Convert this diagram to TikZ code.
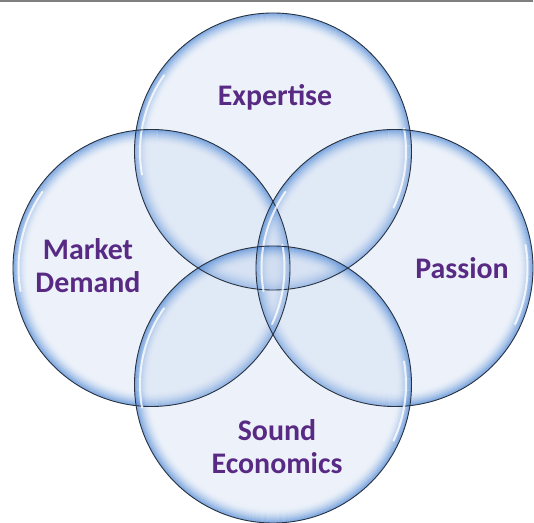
\documentclass[tikz,border=0pt]{standalone}
\usepackage{fontspec}
\setmainfont{Carlito}
\definecolor{labelpurple}{RGB}{88,42,132}
\definecolor{bubbletint}{RGB}{195,212,238}
\definecolor{bubbleblue}{RGB}{70,130,210}
\definecolor{bubbleline}{RGB}{40,50,65}
\definecolor{framegray}{RGB}{128,128,128}
\tikzstyle{bubble} = [fill=bubbletint, fill opacity=0.3]
\tikzstyle{bubbleglow} = [draw=bubbleblue, line width=1.2bp]
\tikzstyle{bubbleedge} = [draw=bubbleline, line width=0.9pt]
\tikzstyle{glint} = [draw=white, line width=2pt, opacity=0.8, line cap=round]
\tikzstyle{circletext} = [font=\bfseries\fontsize{30}{33}\selectfont, text=labelpurple,
	align=center, anchor=base, inner sep=0pt]
\newcommand{\bubblefill}[1]{
	\fill[bubble] (#1) circle (138.5);
	\foreach \d [evaluate=\d as \o using {0.6*(1-\d/15)^2}] in {0,...,14}
		\draw[bubbleglow, draw opacity=\o] (#1) circle (138-\d);
}
\newcommand{\bubbleoutline}[1]{
	\draw[glint] (#1) ++(145:133) arc [radius=133, start angle=145, end angle=190];
	\draw[glint] (#1) ++(-25:133) arc [radius=133, start angle=-25, end angle=10];
	\draw[bubbleedge] (#1) circle (138.5);
}
\begin{document}
\begin{tikzpicture}[x=1bp, y=1bp]
	\useasboundingbox (0,0) rectangle (534,523);
	\fill[framegray] (0,521) rectangle (533,523);

	\coordinate (expertise) at (273,371.5);
	\coordinate (market) at (151.5,255);
	\coordinate (passion) at (394.5,255);
	\coordinate (economics) at (273,138.5);

	\bubblefill{expertise}
	\bubblefill{market}
	\bubblefill{passion}
	\bubblefill{economics}

	\bubbleoutline{expertise}
	\bubbleoutline{market}
	\bubbleoutline{passion}
	\bubbleoutline{economics}

	% base anchor sits on the last line
	\node(expertisetext) at (275,417) [circletext] {Expertise};
	\node(markettext) at (88,230.4) [circletext] {Market\\Demand};
	\node(passiontext) at (462,244.7) [circletext] {Passion};
	\node(economicstext) at (277,49.5) [circletext] {Sound\\Economics};
\end{tikzpicture}
\end{document}
